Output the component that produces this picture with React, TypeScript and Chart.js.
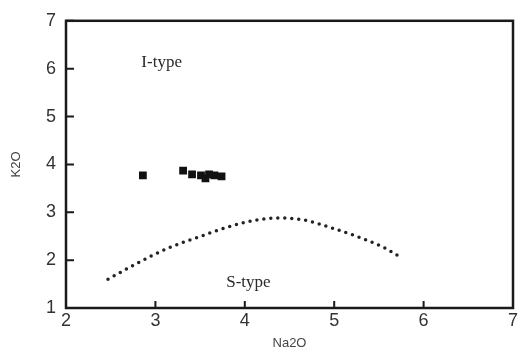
import React, { useEffect, useRef } from "react";
import { Chart, registerables } from "chart.js";

Chart.register(...registerables);

// Sample points (Na2O, K2O)
const sampleNa2O = [2.86, 3.31, 3.41, 3.51, 3.6, 3.56, 3.66, 3.74];
const sampleK2O = [3.77, 3.87, 3.79, 3.77, 3.79, 3.71, 3.77, 3.75];

// I-type / S-type boundary curve
const boundaryNa2O = [2.47, 2.76, 3.14, 3.51, 3.88, 4.14, 4.36, 4.66, 4.96, 5.26, 5.55, 5.76];
const boundaryK2O = [1.6, 1.9, 2.25, 2.5, 2.73, 2.84, 2.88, 2.84, 2.68, 2.49, 2.27, 2.04];

const xTicks = [2, 3, 4, 5, 6, 7];
const yTicks = [1, 2, 3, 4, 5, 6, 7];

const fieldLabels = ["I-type", "S-type"];
const fieldLabelX = [3.07, 4.04];
const fieldLabelY = [6.13, 1.54];

const framePlugin = {
  id: "frame",
  afterDraw(chart: any) {
    const { ctx, chartArea, scales } = chart;
    const { left, right, top, bottom } = chartArea;
    ctx.save();
    ctx.strokeStyle = "#1a1a1a";
    ctx.lineWidth = 2.5;
    ctx.strokeRect(left, top, right - left, bottom - top);
    ctx.lineWidth = 2;
    ctx.beginPath();
    xTicks.forEach((v) => {
      const px = scales.x.getPixelForValue(v);
      ctx.moveTo(px, bottom);
      ctx.lineTo(px, bottom - 7);
    });
    yTicks.forEach((v) => {
      const py = scales.y.getPixelForValue(v);
      ctx.moveTo(left, py);
      ctx.lineTo(left + 8, py);
    });
    ctx.stroke();
    ctx.fillStyle = "#2a2a2a";
    ctx.font = "17px 'Liberation Serif', serif";
    ctx.textAlign = "center";
    ctx.textBaseline = "middle";
    fieldLabels.forEach((t, i) => {
      ctx.fillText(
        t,
        scales.x.getPixelForValue(fieldLabelX[i]),
        scales.y.getPixelForValue(fieldLabelY[i])
      );
    });
    ctx.restore();
  },
};

export default function App() {
  const ref = useRef<HTMLCanvasElement>(null);
  useEffect(() => {
    document.body.style.margin = "0";
    const chart = new Chart(ref.current!, {
      type: "scatter",
      data: {
        datasets: [
          {
            label: "samples",
            data: sampleNa2O.map((x, i) => ({ x, y: sampleK2O[i] })),
            pointStyle: "rect",
            pointRadius: 5.5,
            backgroundColor: "#111",
            borderColor: "#111",
            borderWidth: 0,
          },
          {
            label: "boundary",
            data: boundaryNa2O.map((x, i) => ({ x, y: boundaryK2O[i] })),
            showLine: true,
            pointRadius: 0,
            borderColor: "#222",
            borderWidth: 3.5,
            borderDash: [0, 7],
            borderCapStyle: "round",
            tension: 0.4,
            cubicInterpolationMode: "monotone",
          } as any,
        ],
      },
      options: {
        animation: false,
        responsive: false,
        maintainAspectRatio: false,
        layout: { padding: { top: 18, right: 10, left: 0, bottom: 0 } },
        plugins: { legend: { display: false }, tooltip: { enabled: false } },
        scales: {
          x: {
            type: "linear",
            min: 2,
            max: 7,
            afterBuildTicks: (s: any) => {
              s.ticks = xTicks.map((v) => ({ value: v }));
            },
            afterFit: (s: any) => {
              s.height = 43;
            },
            grid: { display: false, drawTicks: false },
            border: { display: false },
            ticks: {
              padding: 2,
              color: "#333",
              font: { family: "'Liberation Sans', Arial, sans-serif", size: 18 },
            },
            title: {
              display: true,
              text: "Na2O",
              color: "#444",
              padding: { top: 0, bottom: 0 },
              font: { family: "'Liberation Sans', Arial, sans-serif", size: 13 },
            },
          },
          y: {
            type: "linear",
            min: 1,
            max: 7,
            afterBuildTicks: (s: any) => {
              s.ticks = yTicks.map((v) => ({ value: v }));
            },
            afterFit: (s: any) => {
              s.width = 66;
            },
            grid: { display: false, drawTicks: false },
            border: { display: false },
            ticks: {
              padding: 10,
              color: "#333",
              font: { family: "'Liberation Sans', Arial, sans-serif", size: 18 },
            },
            title: {
              display: true,
              text: "K2O",
              color: "#444",
              padding: { top: 9, bottom: 0 },
              font: { family: "'Liberation Sans', Arial, sans-serif", size: 13 },
            },
          },
        },
      },
      plugins: [framePlugin],
    });
    return () => chart.destroy();
  }, []);
  return (
    <div style={{ width: 523, height: 351 }}>
      <canvas ref={ref} width={523} height={351} style={{ display: "block" }} />
    </div>
  );
}
